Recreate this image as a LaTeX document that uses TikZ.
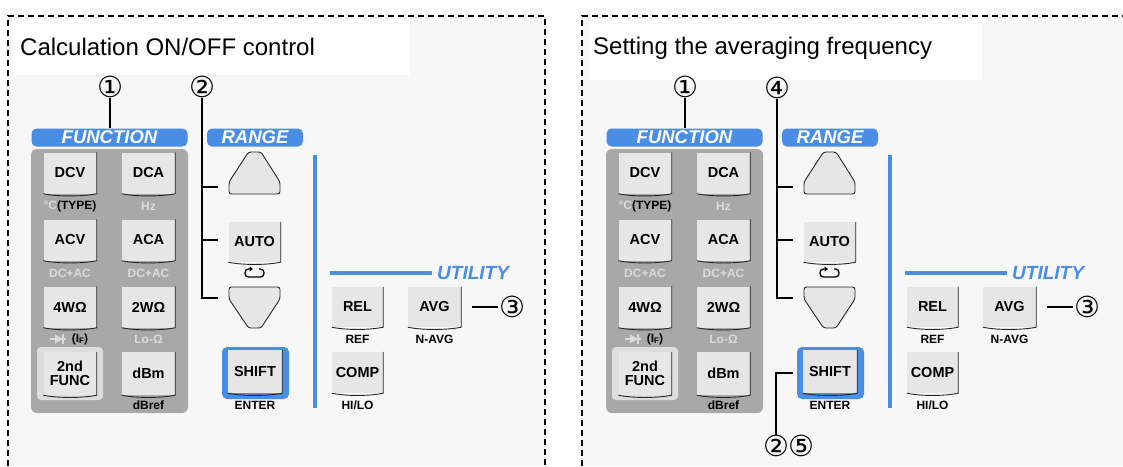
\documentclass[tikz,border=0pt]{standalone}
\usepackage{fontspec}
\setmainfont{Liberation Sans}
\newfontfamily\circledfont{DejaVu Sans}
\definecolor{meterBlue}{HTML}{4A8DE5}
\definecolor{meterPanel}{HTML}{A8A8A8}
\definecolor{meterKey}{HTML}{E6E6E6}
\definecolor{meterShade}{HTML}{DDDDDD}
\definecolor{meterFaint}{HTML}{DADADA}
\definecolor{meterPaper}{HTML}{F7F7F7}
\usetikzlibrary{
	arrows.meta,
	calc
}
\tikzset{
	keycap/.style={
		fill=meterKey,
		minimum width=53pt,
		minimum height=41pt,
		inner sep=0pt,
		align=center,
		font=\fontsize{14.5}{14.5}\selectfont\bfseries
	},
	keyEdge/.style={
		draw=black!85,
		line width=0.9pt
	},
	arrowKey/.style={
		draw=black!85,
		fill=meterKey,
		line width=0.9pt,
		rounded corners=2.5pt
	},
	groupLabel/.style={
		fill=meterBlue,
		rounded corners=5pt,
		minimum height=18pt,
		inner sep=0pt,
		text=white,
		font=\fontsize{18.5}{18.5}\selectfont\bfseries\itshape
	},
	subLabel/.style={
		inner sep=0pt,
		font=\fontsize{12}{12}\selectfont\bfseries
	},
	panelTitle/.style={
		anchor=west,
		inner sep=0pt,
		font=\fontsize{24}{28}\selectfont
	},
	callNum/.style={
		inner sep=0pt,
		font=\circledfont\fontsize{29}{29}\selectfont
	},
	callLine/.style={
		line width=1.1pt,
		black
	},
	loopMark/.style={
		line width=1.3pt,
		rounded corners=3.5pt,
		-{Triangle[length=3.5pt,width=5pt]}
	},
	utilityLine/.style={
		draw=meterBlue,
		line width=3.2pt
	},
	panelFrame/.style={
		dash pattern=on 6pt off 4pt,
		line width=1.4pt
	}
}

\begin{document}
\begin{tikzpicture}[x=1pt, y=-1pt]
	\useasboundingbox (0,0) rectangle (1123,466);
	% dashed panels and their title strips
	\fill[meterPaper] (8,16) rectangle (545,466);
	\fill[meterPaper] (582,16) rectangle (1123,466);
	\fill[white] (12,20) rectangle (409,75);
	\fill[white] (589,20) rectangle (982,80);
	\draw[panelFrame] (8,466) -- (8,16) -- (545,16) -- (545,466);
	\draw[panelFrame] (582,466) -- (582,16) -- (1123,16);
	\node[panelTitle] (titleCalc) at (20,47) {Calculation ON/OFF control};
	\node[panelTitle] (titleAvg) at (593,48) {Setting the averaging frequency};

	\foreach \dx/\side in {0/L,575/R}{
		\begin{scope}[shift={(\dx,0)}, name prefix=\side-]
			% FUNCTION group
			\node[groupLabel, minimum width=156pt] (fnLabel) at (109.5,137.5) {FUNCTION};
			\fill[meterPanel, rounded corners=6pt] (31,149) rectangle (188,413);
			\fill[meterShade, rounded corners=4pt] (37,347) rectangle (103,400);
			\node[keycap] (dcv) at (70,173) {DCV};
			\node[keycap] (dca) at (148.5,173) {DCA};
			\node[keycap] (acv) at (70,240) {ACV};
			\node[keycap] (aca) at (148.5,240) {ACA};
			\node[keycap] (fourW) at (70,307) {4WΩ};
			\node[keycap] (twoW) at (148.5,307) {2WΩ};
			\node[keycap, minimum height=43pt] (secondFn) at (70,373.5) {2nd\\FUNC};
			\node[keycap, minimum height=43pt] (dbm) at (148.5,373.5) {dBm};
			\node[subLabel] (typeLabel) at (70,206) {\textcolor{meterFaint}{°C}(TYPE)};
			\node[subLabel, text=meterFaint] (hzLabel) at (148.5,206) {Hz};
			\node[subLabel, text=meterFaint] (acvSub) at (70,273) {DC+AC};
			\node[subLabel, text=meterFaint] (acaSub) at (148.5,273) {DC+AC};
			\node[subLabel] (ifLabel) at (80,339) {(I\raisebox{-1pt}{\fontsize{8}{8}\selectfont F})};
			\node[subLabel, text=meterFaint] (loLabel) at (148.5,339) {Lo-Ω};
			\node[subLabel] (dbrefLabel) at (148.5,405) {dBref};
			\fill[meterFaint] (55,334.5) -- (63,339) -- (55,343.5) -- cycle;
			\draw[meterFaint, line width=1.4pt] (63,334) -- (63,344) (50,339) -- (66,339);
			% RANGE group
			\node[groupLabel, minimum width=96pt] (rangeLabel) at (255,137.5) {RANGE};
			\draw[arrowKey] (248.5,152) -- (261,152) -- (280,182) -- (280,194) -- (229,194) -- (229,182) -- cycle;
			\node[keycap, minimum width=52pt, minimum height=40pt] (auto) at (254.5,242) {AUTO};
			\draw[loopMark] (259,269) -- (264,269) -- (264,277) -- (245,277) -- (245,269) -- (253,269);
			\draw[arrowKey] (229,287) -- (280,287) -- (280,299) -- (261,328) -- (248.5,328) -- (229,299) -- cycle;
			\node[fill=meterBlue, rounded corners=5pt, minimum width=67pt, minimum height=52pt] (shiftFrame) at (255.5,373) {};
			\node[keycap, minimum width=54pt, minimum height=43pt] (shiftKey) at (255,371.5) {SHIFT};
			\node[subLabel] (enterLabel) at (255,405) {ENTER};
			\coordinate (upTick) at (218,187);
			\coordinate (autoTick) at (218,240);
			\coordinate (downTick) at (218,298);
			% UTILITY group
			\draw[utilityLine] (315,155) -- (315,408);
			\node[anchor=west, inner sep=0pt, text=meterBlue, font=\fontsize{19}{19}\selectfont\bfseries\itshape] (utilLabel) at (437,273) {UTILITY};
			\draw[utilityLine] ([xshift=-5pt]utilLabel.west) -- (330,273);
			\node[keycap, minimum width=51pt, minimum height=40pt] (rel) at (357.5,307) {REL};
			\node[keycap, minimum height=40pt] (avg) at (434.5,307) {AVG};
			\node[keycap, minimum width=51pt] (comp) at (357.5,372.5) {COMP};
			\node[subLabel] (refLabel) at (357.5,339) {REF};
			\node[subLabel] (navgLabel) at (434.5,339) {N-AVG};
			\node[subLabel] (hiloLabel) at (357.5,405) {HI/LO};
			\foreach \k in {dcv,dca,acv,aca,fourW,twoW,secondFn,dbm,auto,shiftKey,rel,avg,comp}
				\draw[keyEdge] (\k.north east) -- (\k.south east) .. controls +(-14,3) and +(14,3) .. (\k.south west);
			% callouts found in both panels
			\node[callNum] (numOne) at (110,87) {①};
			\draw[callLine] (numOne.south) -- (numOne.south |- fnLabel.north);
			\node[callNum] (numThree) at (512,307) {③};
			\draw[callLine] ([xshift=11pt]avg.east) -- ([xshift=-1pt]numThree.west);
		\end{scope}
	}

	% left panel: RANGE keys
	\node[callNum] (numTwo) at (202,87) {②};
	\draw[callLine] (numTwo.south) -- (numTwo.south |- L-downTick) -- (L-downTick);
	\draw[callLine] (numTwo.south |- L-upTick) -- (L-upTick);
	\draw[callLine] (numTwo.south |- L-autoTick) -- (L-autoTick);
	% right panel: RANGE keys and SHIFT
	\node[callNum] (numFour) at (777,88) {④};
	\draw[callLine] (numFour.south) -- (numFour.south |- R-downTick) -- (R-downTick);
	\draw[callLine] (numFour.south |- R-upTick) -- (R-upTick);
	\draw[callLine] (numFour.south |- R-autoTick) -- (R-autoTick);
	\node[callNum] (numTwoFive) at (789,446) {②⑤};
	\draw[callLine] ([xshift=-4pt]R-shiftFrame.west) -| ([xshift=-13pt]numTwoFive.north);
\end{tikzpicture}
\end{document}
